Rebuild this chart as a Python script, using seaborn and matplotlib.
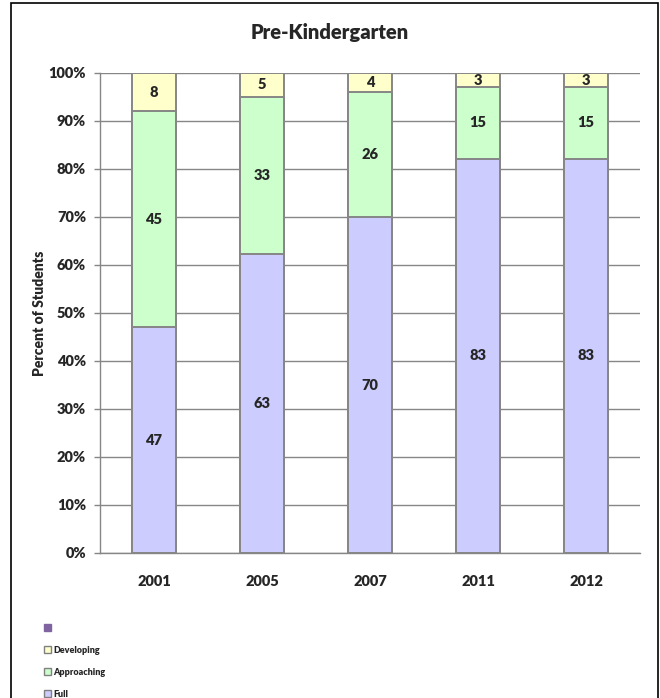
#!/usr/bin/env python3
"""Pre-Kindergarten readiness, 100% stacked bars."""

import numpy as np
import pandas as pd

import matplotlib
matplotlib.use('Agg')
import matplotlib.pyplot as plt
from matplotlib.patches import Patch, Rectangle
import seaborn as sns

years = ['2001', '2005', '2007', '2011', '2012']
full = [47, 63, 70, 83, 83]
approaching = [45, 33, 26, 15, 15]
developing = [8, 5, 4, 3, 3]

series_names = ['Full', 'Approaching', 'Developing']
series_colors = ['#CCCCFF', '#CCFFCC', '#FFFFCC']

W = 'heavy'

sns.set_theme(style='white')
plt.rcParams['font.family'] = ['Lato', 'DejaVu Sans']
plt.rcParams['font.weight'] = W

df = pd.DataFrame({'year': years, 'Full': full,
                   'Approaching': approaching, 'Developing': developing})
total = df[series_names].sum(axis=1)
pct = df[series_names].div(total, axis=0)
cum = pct.cumsum(axis=1)

fig = plt.figure(figsize=(6.6, 6.98), dpi=100)
ax = fig.add_axes([100 / 660, 1 - 553 / 698, 540 / 660, 480 / 698])

# draw from the top of the stack down so lower segments overlay
for name, color in zip(series_names[::-1], series_colors[::-1]):
    sns.barplot(x=df['year'], y=cum[name], color=color, edgecolor='#868686',
                linewidth=1.4, width=0.41, saturation=1, ax=ax, zorder=3)

for i in range(len(years)):
    base = 0.0
    for name in series_names:
        h = pct.loc[i, name]
        ax.text(i, base + h / 2, str(df.loc[i, name]), ha='center', va='center',
                fontsize=10.5, fontweight=W, zorder=4)
        base += h

ax.set_ylim(0, 1)
ax.set_xlim(-0.5, len(years) - 0.5)
ax.set_yticks(np.arange(0, 1.01, 0.1))
ax.set_yticklabels([f'{int(round(v * 100))}%' for v in np.arange(0, 1.01, 0.1)])
ax.yaxis.grid(True, color='#868686', linewidth=1)
ax.set_axisbelow(True)
ax.tick_params(axis='y', which='major', left=True, length=4, width=1,
               color='#868686', labelsize=10.5, pad=6)
ax.tick_params(axis='x', bottom=False, labelsize=10.5, pad=10)
for t in ax.get_xticklabels() + ax.get_yticklabels():
    t.set_fontweight(W)
for s in ['top', 'right']:
    ax.spines[s].set_visible(False)
for s in ['left', 'bottom']:
    ax.spines[s].set_color('#868686')
    ax.spines[s].set_linewidth(1)
ax.set_xlabel('')
ax.set_ylabel('Percent of Students', fontsize=10, fontweight=W, labelpad=2)

fig.text(0.5, 1 - 33 / 698, 'Pre-Kindergarten', ha='center', va='center',
         fontsize=14.5, fontweight=W)

# outer chart border
fig.patches.append(Rectangle((11 / 660, -0.05), 647 / 660, 1 - 3 / 698 + 0.05,
                             transform=fig.transFigure, fill=False,
                             edgecolor='black', linewidth=1.2))

handles = [Patch(facecolor='#8064A2', edgecolor='#8064A2', label=' ')]
handles += [Patch(facecolor=c, edgecolor='#808080', label=n)
            for n, c in zip(series_names[::-1], series_colors[::-1])]
leg = fig.legend(handles=handles, loc='upper left',
                 bbox_to_anchor=(40 / 660, 1 - 620 / 698),
                 frameon=False, fontsize=6.5, handlelength=0.8, handleheight=0.8,
                 handletextpad=0.3, labelspacing=1.45, borderaxespad=0)
for t in leg.get_texts():
    t.set_fontweight(W)

fig.savefig('out.png', dpi=100)
